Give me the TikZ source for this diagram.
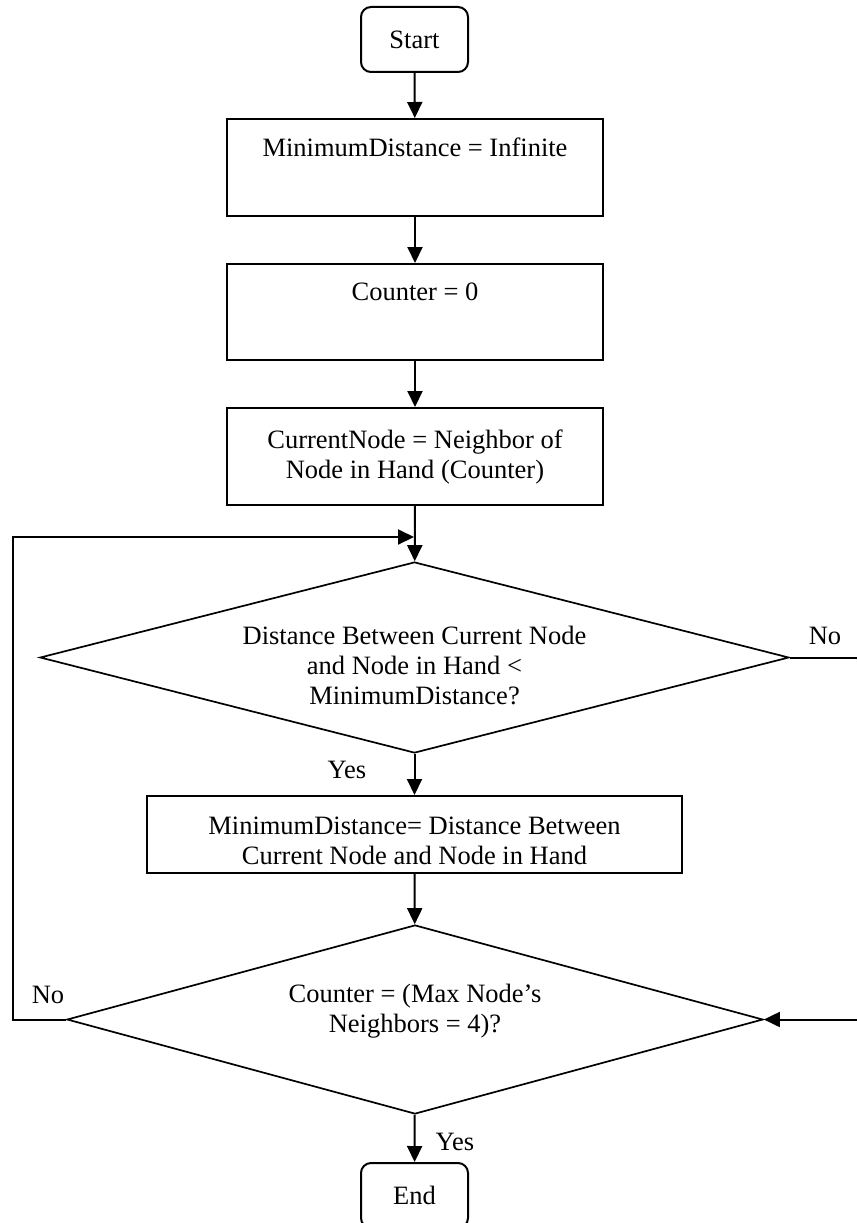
\documentclass[tikz,border=0pt]{standalone}
\usepackage{fontspec}
\setmainfont{Liberation Serif}
\usetikzlibrary{shapes.geometric}
\usetikzlibrary{arrows.meta}

\begin{document}
\begin{tikzpicture}[x=1pt,y=-1pt,every node/.style={font=\fontsize{26.5}{30}\selectfont}]
            \tikzset{line/.style={line width=2pt}};
            \tikzset{arrow/.style={line, -{Triangle[length=16pt,width=15pt]}}};
            \tikzset{block/.style={draw, line, rectangle, minimum width=376pt, inner sep=0pt, align=center}};
            \tikzset{term/.style={draw, line, rectangle, rounded corners=10pt, minimum width=107pt, minimum height=65pt}};
            \tikzset{decision/.style={draw, line width=1.7pt, diamond, inner sep=0pt, align=center}};

            \useasboundingbox (0,0) rectangle (857,1223);

            \node[term] (start) at (414.5,39.5) {Start};
            \node[block, minimum height=97pt, text height=18pt, text depth=41pt] (init) at (415,167.5) {MinimumDistance = Infinite};
            \node[block, minimum height=96pt, text height=18pt, text depth=41pt] (count) at (415,312) {Counter = 0};
            \node[block, minimum height=97pt] (curr) at (415,456.5) {CurrentNode = Neighbor of\\Node in Hand (Counter)};
            \node[decision, aspect=3.92, minimum width=749pt, minimum height=191pt, text height=94pt] (dist) at (414.5,657.5) {Distance Between Current Node\\and Node in Hand <\\MinimumDistance?};
            \node[block, minimum width=535pt, minimum height=77pt, text height=61pt] (upd) at (414.5,834.5) {MinimumDistance= Distance Between\\Current Node and Node in Hand};
            \node[decision, aspect=3.7, minimum width=696pt, minimum height=189pt, text depth=22pt] (check) at (415,1019.5) {Counter = (Max Node's\\Neighbors = 4)?};
            \node[term] (end) at (414.5,1195.5) {End};

            \draw[arrow] (start) -- (init);
            \draw[arrow] (init) -- (count);
            \draw[arrow] (count) -- (curr);
            \draw[arrow] (curr) -- (dist);
            \draw[arrow] (dist) -- (upd);
            \draw[arrow] (upd) -- (check);
            \draw[arrow] (check) -- (end);

            % loop back on the left
            \coordinate (loopdown) at (13,1019.5);
            \coordinate (loopup) at (13,537);
            \coordinate (join) at (414,537);
            \draw[arrow] (check.west) -- (loopdown) -- (loopup) -- (join);

            % right side, leaves the page
            \coordinate (rightout) at (857,657.5);
            \coordinate (rightin) at (857,1019.5);
            \draw[line] (dist.east) -- (rightout);
            \draw[arrow] (rightin) -- (check.east);

            \node (yes1) at (347,770) {Yes};
            \node (no1) at (825,636) {No};
            \node (no2) at (48,995) {No};
            \node (yes2) at (455,1142) {Yes};
        \end{tikzpicture}
\end{document}
